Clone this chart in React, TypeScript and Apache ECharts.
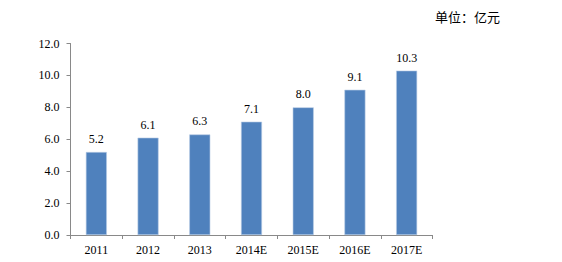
import React, { useEffect, useRef } from "react";
import * as echarts from "echarts";

const categories = ["2011", "2012", "2013", "2014E", "2015E", "2016E", "2017E"];
const values = [5.2, 6.1, 6.3, 7.1, 8.0, 9.1, 10.3];
const unitText = "单位：亿元";

export default function App() {
  const ref = useRef<HTMLDivElement>(null);
  useEffect(() => {
    if (!ref.current) return;
    const chart = echarts.init(ref.current, null, { renderer: "svg" });
    const serif = "'Liberation Serif', 'Times New Roman', serif";
    chart.setOption({
      animation: false,
      backgroundColor: "#ffffff",
      grid: { left: 70.5, right: 129.5, top: 43.5, bottom: 27 },
      graphic: [
        {
          type: "text",
          left: 435,
          top: 10,
          style: {
            text: unitText,
            font: "13px 'Noto Sans CJK SC', sans-serif",
            fill: "#000",
          },
        },
      ],
      xAxis: {
        type: "category",
        data: categories,
        axisLine: { lineStyle: { color: "#898989", width: 1 } },
        axisTick: { show: true, length: 4, lineStyle: { color: "#898989" } },
        axisLabel: {
          color: "#000",
          fontFamily: serif,
          fontSize: 12,
          margin: 9,
        },
      },
      yAxis: {
        type: "value",
        min: 0,
        max: 12,
        interval: 2,
        splitLine: { show: false },
        axisLine: { show: true, lineStyle: { color: "#898989", width: 1 } },
        axisTick: { show: true, length: 4, lineStyle: { color: "#898989" } },
        axisLabel: {
          color: "#000",
          fontFamily: serif,
          fontSize: 12,
          margin: 11,
          formatter: (v: number) => v.toFixed(1),
        },
      },
      series: [
        {
          type: "bar",
          data: values,
          barWidth: 21,
          itemStyle: { color: "#4F81BD", borderColor: "#B9CDE5", borderWidth: 0.6 },
          label: {
            show: true,
            position: "top",
            distance: 7,
            color: "#000",
            fontFamily: serif,
            fontSize: 12,
            formatter: (p: any) => Number(p.value).toFixed(1),
          },
        },
      ],
    });
    return () => chart.dispose();
  }, []);
  return (
    <div
      ref={ref}
      style={{ position: "fixed", left: 0, top: 0, width: 562, height: 262 }}
    />
  );
}
